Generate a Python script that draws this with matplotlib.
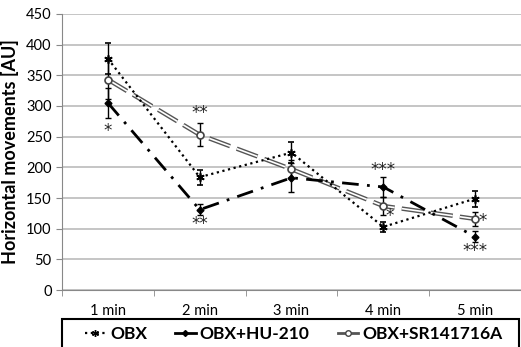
import matplotlib
matplotlib.use("Agg")
import matplotlib.pyplot as plt
from matplotlib.patches import Rectangle
import numpy as np

plt.rcParams['font.family'] = ['Lato', 'DejaVu Sans']

cats = ["1 min", "2 min", "3 min", "4 min", "5 min"]
obx = [377, 184, 224, 103, 149]
obx_err = [25, 12, 17, 8, 13]
hu = [305, 131, 183, 168, 87]
hu_err = [25, 9, 24, 17, 9]
sr = [343, 253, 197, 137, 116]
sr_err = [32, 19, 15, 14, 12]

# significance marks: (category index, y value, text)
stars = [(0, 259, "*"), (1, 289, "**"), (1, 107, "**"), (3, 195, "***"),
         (3.07, 121, "*"), (4.08, 112, "*"), (4, 63, "***")]

fig = plt.figure(figsize=(5.21, 3.47), dpi=100)
ax = fig.add_axes([0.119, 0.164, 0.881, 0.796])
x = np.arange(len(cats))

# OBX+SR141716A: gray double-line dashes
ax.errorbar(x, sr, yerr=sr_err, color='#555555', lw=3.2, ls=(0, (5, 1.6)),
            ecolor='black', elinewidth=1, capsize=2, zorder=2)
ax.plot(x, sr, color='white', lw=1.2, ls=(0, (5 * 3.2 / 1.2, 1.6 * 3.2 / 1.2)), zorder=2.1)
ax.plot(x, sr, ls='none', marker='o', ms=5, mfc='white', mec='#444444', mew=1.2, zorder=4)

# OBX+HU-210: dash-dot
ax.errorbar(x, hu, yerr=hu_err, color='black', lw=2, ls=(0, (6, 3, 1, 3)),
            marker='D', ms=3.5, ecolor='black', elinewidth=1, capsize=2, zorder=3)

# OBX: dotted
ax.errorbar(x, obx, yerr=obx_err, color='black', lw=1.6, ls=(0, (1, 1.6)),
            marker=(6, 2, 0), ms=6, mew=1.2, ecolor='black', elinewidth=1, capsize=2, zorder=3)

for xi, yi, t in stars:
    ax.text(xi, yi, t, ha='center', va='center', fontsize=12, color='#222222',
            family='DejaVu Sans')

ax.set_xlim(-0.5, 4.5)
ax.set_ylim(0, 450)
ax.set_yticks(range(0, 451, 50))
ax.set_xticks(x)
ax.set_xticklabels(cats)
ax.set_xticks(np.arange(-0.5, 5, 1), minor=True)
ax.tick_params(axis='x', which='major', length=0, pad=10, labelsize=10.5)
ax.tick_params(axis='x', which='minor', length=4, color='#888888')
ax.tick_params(axis='y', length=4, color='#888888', labelsize=10.5)
ax.yaxis.grid(True, color='#bbbbbb', lw=1.2)
ax.set_axisbelow(True)
for s in ['top', 'right']:
    ax.spines[s].set_visible(False)
ax.spines['left'].set_color('#888888')
ax.spines['bottom'].set_color('#888888')
ax.set_ylabel("Horizontal movements [AU]", fontsize=13, fontweight='bold', labelpad=5)

# legend box drawn separately so it spans the plot width
fig.patches.append(Rectangle((0.119, -0.01), 0.878, 0.091, transform=fig.transFigure,
                             fill=False, edgecolor='black', lw=1.5))
h1, = ax.plot([], [], color='black', lw=1.6, ls=(0, (1, 1.6)), marker=(6, 2, 0), ms=5)
h2, = ax.plot([], [], color='black', lw=2, marker='D', ms=3)
h3, = ax.plot([], [], color='#555555', lw=2, marker='o', ms=4, mfc='white', mec='#444444')
leg = fig.legend([h1, h2, h3], ["OBX", "OBX+HU-210", "OBX+SR141716A"], ncol=3,
                 loc='center', bbox_to_anchor=(0.564, 0.038),
                 frameon=False, handlelength=1.2, columnspacing=1.6,
                 handletextpad=0.25, borderpad=0.1,
                 prop={'size': 12.5, 'weight': 'bold'})

fig.savefig("out.png", dpi=100)
